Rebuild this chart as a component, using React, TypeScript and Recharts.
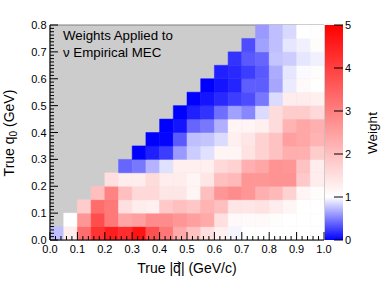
import { ComposedChart, XAxis, YAxis, ReferenceArea } from 'recharts';

const FONT = "'Liberation Sans', Arial, Helvetica, sans-serif";

// bin edges
const qEdges = [0, 0.05, 0.1, 0.15, 0.2, 0.25, 0.3, 0.35, 0.4, 0.45, 0.5, 0.55, 0.6, 0.65, 0.7, 0.75, 0.8, 0.85, 0.9, 0.95, 1.0];
const q0Edges = [0, 0.05, 0.1, 0.15, 0.2, 0.25, 0.3, 0.35, 0.4, 0.45, 0.5, 0.55, 0.6, 0.65, 0.7, 0.75, 0.8];

const weightTicks = [0, 1, 2, 3, 4, 5];

// weights per q0 bin (null = empty, outside kinematic region)
const _ = null;
const q0Row00 = [0.75, 1.3, 3.27, 4.2, 4.53, 4.3, 4.69, 3.75, 3.12, 2.33, 1.95, 1.5, 1.25, 0.96, 1.0, 1.0, 1.0, 1.0, 1.0, 1.0];
const q0Row05 = [_, 1.0, 2.65, 3.8, 3.1, 2.4, 2.5, 2.8, 2.8, 2.65, 2.5, 2.35, 1.5, 1.1, 1.08, 1.1, 1.05, 1.0, 1.0, 1.0];
const q0Row10 = [_, _, 1.8, 3.3, 3.1, 1.5, 1.3, 1.25, 1.85, 2.0, 1.9, 2.2, 2.0, 1.4, 1.4, 1.45, 1.3, 1.15, 1.0, 1.0];
const q0Row15 = [_, _, _, 2.0, 2.95, 2.0, 1.6, 1.6, 1.4, 1.4, 1.15, 2.0, 2.65, 2.8, 2.65, 2.25, 2.1, 1.7, 1.15, 1.05];
const q0Row20 = [_, _, _, _, 1.5, 1.3, 1.3, 1.55, 1.3, 1.3, 1.15, 1.4, 2.0, 2.1, 2.65, 2.65, 2.7, 2.7, 1.85, 1.3];
const q0Row25 = [_, _, _, _, _, 0.4, 0.47, 0.7, 0.88, 1.25, 1.25, 1.25, 1.6, 1.7, 2.25, 2.4, 2.7, 2.65, 1.95, 1.3];
const q0Row30 = [_, _, _, _, _, _, 0.0, 0.12, 0.24, 0.6, 0.8, 0.88, 1.15, 1.15, 1.45, 1.7, 1.95, 2.25, 2.25, 1.8];
const q0Row35 = [_, _, _, _, _, _, _, 0.0, 0.02, 0.35, 0.75, 0.77, 0.86, 1.25, 1.4, 1.7, 1.95, 2.5, 2.4, 2.2];
const q0Row40 = [_, _, _, _, _, _, _, _, 0.0, 0.08, 0.4, 0.47, 0.69, 1.15, 1.15, 1.25, 1.55, 2.2, 2.4, 2.25];
const q0Row45 = [_, _, _, _, _, _, _, _, _, 0.0, 0.12, 0.2, 0.43, 0.63, 0.53, 0.86, 1.55, 1.8, 1.8, 1.6];
const q0Row50 = [_, _, _, _, _, _, _, _, _, _, 0.0, 0.08, 0.16, 0.24, 0.3, 0.47, 0.86, 1.3, 1.3, 1.25];
const q0Row55 = [_, _, _, _, _, _, _, _, _, _, _, 0.0, 0.08, 0.14, 0.37, 0.37, 0.65, 0.92, 1.1, 1.0];
const q0Row60 = [_, _, _, _, _, _, _, _, _, _, _, _, 0.12, 0.16, 0.24, 0.35, 0.67, 0.9, 0.98, 1.05];
const q0Row65 = [_, _, _, _, _, _, _, _, _, _, _, _, _, 0.2, 0.35, 0.4, 0.77, 0.8, 0.9, 0.94];
const q0Row70 = [_, _, _, _, _, _, _, _, _, _, _, _, _, _, 0.3, 0.63, 0.75, 0.9, 0.94, 1.05];
const q0Row75 = [_, _, _, _, _, _, _, _, _, _, _, _, _, _, _, 0.6, 0.75, 0.85, 1.0, 1.02];

const weightRows = [
  q0Row00, q0Row05, q0Row10, q0Row15, q0Row20, q0Row25, q0Row30, q0Row35,
  q0Row40, q0Row45, q0Row50, q0Row55, q0Row60, q0Row65, q0Row70, q0Row75,
];

// blue (0) -> white (1) -> red (5)
const weightColor = (w: number) => {
  if (w <= 1) {
    const c = Math.round(255 * Math.max(0, w));
    return `rgb(${c},${c},255)`;
  }
  const c = Math.round(255 * (1 - Math.min(1, (w - 1) / 4)));
  return `rgb(255,${c},${c})`;
};

const cells = weightRows.flatMap((row, j) =>
  row.map((w, i) => (w == null ? null : {
    x1: qEdges[i], x2: qEdges[i + 1], y1: q0Edges[j], y2: q0Edges[j + 1], w,
  })).filter(Boolean) as { x1: number; x2: number; y1: number; y2: number; w: number }[]
);

// ROOT-style ticks: majors every 0.1, minors in between
const xTicks = Array.from({ length: 51 }, (_v, i) => i / 50);
const yTicks = Array.from({ length: 65 }, (_v, i) => i / 80);
const isMajor = (v: number) => Math.abs(v * 10 - Math.round(v * 10)) < 1e-6;

const XTick = ({ x, y, payload }: any) => {
  const major = isMajor(payload.value);
  return (
    <g>
      <line x1={x} x2={x} y1={y} y2={y - (major ? 8 : 4)} stroke="#000" />
      {major && (
        <text x={x} y={y + 13} textAnchor="middle" fontSize={11} fontFamily={FONT} fill="#000">
          {payload.value.toFixed(1)}
        </text>
      )}
    </g>
  );
};

const YTick = ({ x, y, payload }: any) => {
  const major = isMajor(payload.value);
  return (
    <g>
      <line x1={x} x2={x + (major ? 8 : 4)} y1={y} y2={y} stroke="#000" />
      {major && (
        <text x={x - 3.5} y={y + 4} textAnchor="end" fontSize={11} fontFamily={FONT} fill="#000">
          {payload.value.toFixed(1)}
        </text>
      )}
    </g>
  );
};

const ZTick = ({ x, y, payload }: any) => (
  <g>
    <line x1={x - 9} x2={x} y1={y} y2={y} stroke="#000" />
    <text x={x + 2} y={y + 4} textAnchor="start" fontSize={11} fontFamily={FONT} fill="#000">
      {payload.value}
    </text>
  </g>
);

const titleStyle = {
  position: 'absolute' as const,
  fontSize: 14,
  lineHeight: 1,
  whiteSpace: 'nowrap' as const,
  color: '#000',
};

export default function App() {
  return (
    <div style={{ position: 'relative', width: 390, height: 283, background: '#fff', fontFamily: FONT, overflow: 'hidden' }}>
      <style>{'body{margin:0}'}</style>
      {/* palette gradient, referenced by the colour bar */}
      <svg width={0} height={0} style={{ position: 'absolute' }}>
        <defs>
          <linearGradient id="weightGrad" x1="0" y1="0" x2="0" y2="1">
            <stop offset="0%" stopColor="#ff0000" />
            <stop offset="80%" stopColor="#ffffff" />
            <stop offset="100%" stopColor="#0000ff" />
          </linearGradient>
        </defs>
      </svg>

      <div style={{ position: 'absolute', left: 0, top: 0 }}>
        <ComposedChart width={390} height={283} margin={{ top: 25, right: 66, bottom: 0, left: 0 }}>
          <ReferenceArea x1={0} x2={1} y1={0} y2={0.8} fill="#cccccc" fillOpacity={1} stroke="#7f7f7f" strokeWidth={1} />
          {cells.map((c, k) => (
            <ReferenceArea key={k} x1={c.x1} x2={c.x2} y1={c.y1} y2={c.y2}
              fill={weightColor(c.w)} fillOpacity={1} stroke={weightColor(c.w)} strokeWidth={0.5} />
          ))}
          <XAxis type="number" dataKey="x" domain={[0, 1]} allowDataOverflow ticks={xTicks} interval={0}
            height={43} tickSize={0} tickMargin={0} tickLine={false} tick={<XTick />}
            axisLine={{ stroke: '#000' }} />
          <YAxis type="number" dataKey="y" domain={[0, 0.8]} allowDataOverflow ticks={yTicks} interval={0}
            width={50} tickSize={0} tickMargin={0} tickLine={false} tick={<YTick />}
            axisLine={{ stroke: '#000' }} />
        </ComposedChart>
      </div>

      <div style={{ position: 'absolute', left: 0, top: 0 }}>
        <ComposedChart width={390} height={283} margin={{ top: 25, right: 0, bottom: 43, left: 325 }}>
          <XAxis type="number" dataKey="x" domain={[0, 1]} allowDataOverflow hide />
          <ReferenceArea x1={0} x2={1} y1={0} y2={5} fill="url(#weightGrad)" fillOpacity={1} stroke="none" />
          <YAxis type="number" orientation="right" domain={[0, 5]} allowDataOverflow ticks={weightTicks} interval={0}
            width={47} tickSize={0} tickMargin={0} tickLine={false} axisLine={false} tick={<ZTick />} />
        </ComposedChart>
      </div>

      <div style={{ ...titleStyle, fontSize: 13.3, left: 63, top: 28.5 }}>Weights Applied to</div>
      <div style={{ ...titleStyle, fontSize: 13.3, left: 63, top: 45.8 }}>ν Empirical MEC</div>

      <div style={{ ...titleStyle, left: 187, top: 268, transform: 'translate(-50%, -50%)' }}>
        True |<span style={{ position: 'relative' }}>q
          <svg style={{ position: 'absolute', left: 0.5, top: 1 }} width={8} height={5}>
            <line x1={0.5} y1={2.5} x2={6.5} y2={2.5} stroke="#000" strokeWidth={1} />
            <path d="M4.5,0.5 L7.5,2.5 L4.5,4.5" fill="none" stroke="#000" strokeWidth={1} />
          </svg>
        </span>| (GeV/c)
      </div>

      <div style={{ ...titleStyle, left: 9, top: 133, transform: 'translate(-50%, -50%) rotate(-90deg)' }}>
        True q<span style={{ fontSize: 10, position: 'relative', top: 3 }}>0</span> (GeV)
      </div>

      <div style={{ ...titleStyle, fontSize: 13.5, left: 373, top: 132.5, transform: 'translate(-50%, -50%) rotate(-90deg)' }}>
        Weight
      </div>
    </div>
  );
}
